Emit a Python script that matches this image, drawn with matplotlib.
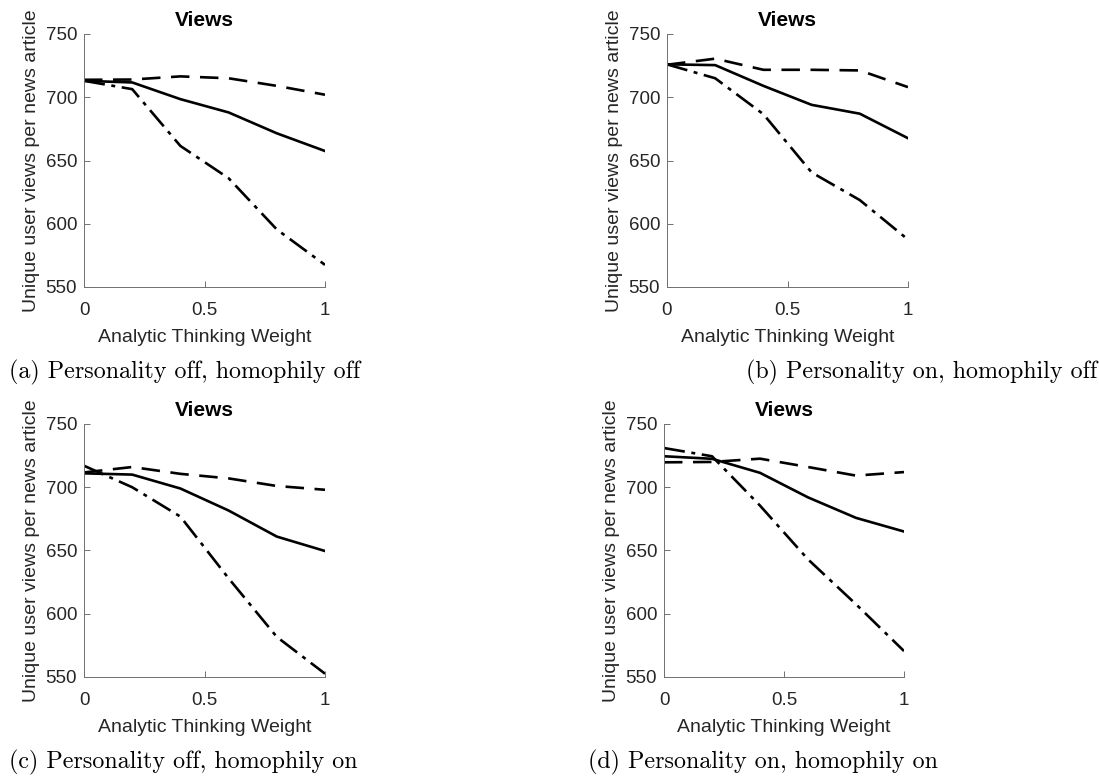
import matplotlib.pyplot as plt

plt.rcParams['font.family'] = ['Liberation Sans', 'DejaVu Sans']

weights = [0, 0.2, 0.4, 0.6, 0.8, 1]

# (a) personality off, homophily off
a_dashed = [713.8, 714, 716.5, 715, 709, 702]
a_solid = [713, 711.7, 698.5, 688, 671.5, 657.5]
a_dashdot = [713, 706.4, 661.5, 636, 595.5, 567.5]

# (b) personality on, homophily off
b_dashed = [725.7, 730.5, 721.7, 721.7, 721.2, 708]
b_solid = [726, 725.4, 709, 694, 687, 667.6]
b_dashdot = [726, 715, 686.6, 640.6, 618.7, 587.5]

# (c) personality off, homophily on
c_dashed = [711.7, 716, 710.6, 707, 701, 698]
c_solid = [711, 710, 699, 681.6, 661, 649.6]
c_dashdot = [717, 700, 676.8, 628, 581.7, 552.6]

# (d) personality on, homophily on
d_dashed = [719.7, 720, 722.6, 716, 709.2, 712]
d_solid = [724.5, 722.5, 711.4, 692, 675.8, 665]
d_dashdot = [731, 724.5, 685.5, 643, 607.5, 570.5]

captions = [
    "(a) Personality off, homophily off",
    "(b) Personality on, homophily off",
    "(c) Personality off, homophily on",
    "(d) Personality on, homophily on",
]

W, H = 1099, 782
fig = plt.figure(figsize=(W / 100, H / 100), dpi=100)

# pixel boxes: left, top, right, bottom
boxes = [(84, 34, 325, 287), (667, 34, 908, 287),
         (84, 424, 325, 677), (664, 424, 904, 677)]
series = [(a_dashed, a_solid, a_dashdot), (b_dashed, b_solid, b_dashdot),
          (c_dashed, c_solid, c_dashdot), (d_dashed, d_solid, d_dashdot)]
# caption anchor: x pixel, y pixel, alignment
cap_pos = [(9, 372, 'left'), (1097, 372, 'right'),
           (9, 762, 'left'), (588, 762, 'left')]

axcol = '#262626'

for box, (dsh, sol, dd), cap, cp in zip(boxes, series, captions, cap_pos):
    l, t, r, b = box
    ax = fig.add_axes([l / W, (H - b) / H, (r - l) / W, (b - t) / H])
    ax.plot(weights, dsh, color='black', lw=1.9, dashes=(7, 4))
    ax.plot(weights, sol, color='black', lw=1.9)
    ax.plot(weights, dd, color='black', lw=1.9, dashes=(8, 2.5, 1.5, 2.5))
    ax.set_xlim(0, 1)
    ax.set_ylim(550, 750)
    ax.set_xticks([0, 0.5, 1])
    ax.set_xticklabels(['0', '0.5', '1'])
    ax.set_yticks([550, 600, 650, 700, 750])
    for s in ['top', 'right']:
        ax.spines[s].set_visible(False)
    for s in ['left', 'bottom']:
        ax.spines[s].set_color('#707070')
        ax.spines[s].set_linewidth(0.7)
    ax.tick_params(direction='in', length=4, width=0.7, color='#707070',
                   labelsize=13.5, labelcolor=axcol)
    ax.tick_params(axis='x', pad=11)
    ax.tick_params(axis='y', pad=5)
    ax.set_title("Views", fontsize=15, fontweight='bold', color='black', pad=6)
    ax.set_xlabel("Analytic Thinking Weight", fontsize=14, color=axcol, labelpad=7)
    ax.set_ylabel("Unique user views per news article", fontsize=14, color=axcol,
                  labelpad=4)
    fig.text(cp[0] / W, 1 - cp[1] / H, cap, ha=cp[2], va='center',
             fontsize=17.3, family='cmr10', color='black')

fig.savefig("out.png", dpi=100)
